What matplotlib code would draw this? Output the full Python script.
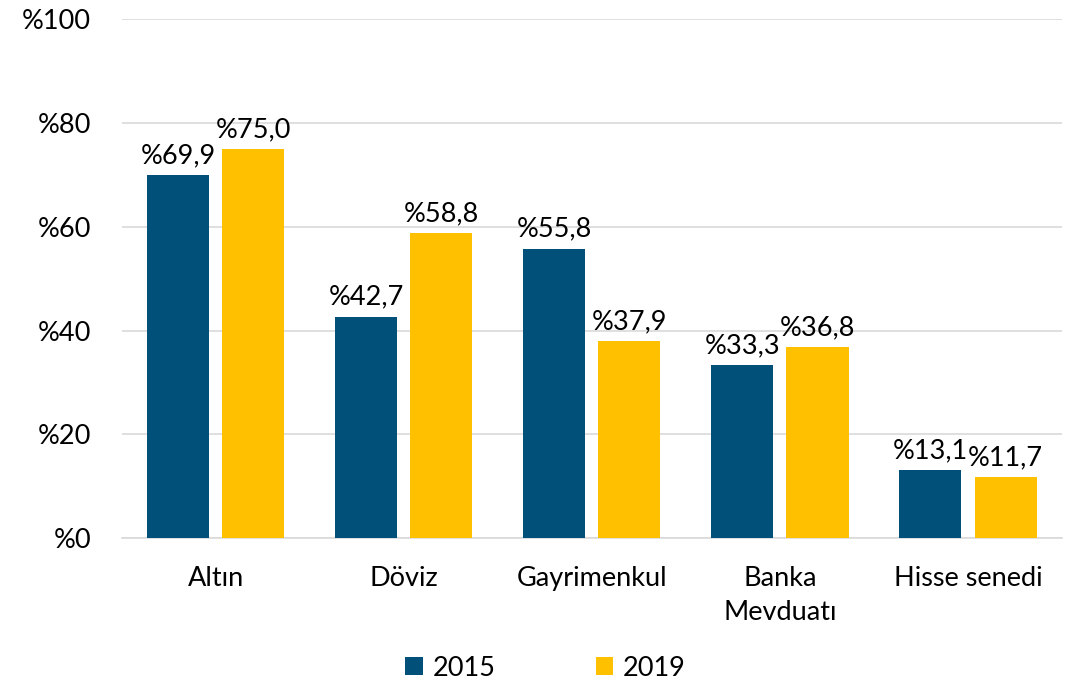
import numpy as np
import matplotlib
matplotlib.use("Agg")
import matplotlib.pyplot as plt

categories = ["Altın", "Döviz", "Gayrimenkul", "Banka\nMevduatı", "Hisse senedi"]
values_2015 = [69.9, 42.7, 55.8, 33.3, 13.1]
values_2019 = [75.0, 58.8, 37.9, 36.8, 11.7]
series_labels = ["2015", "2019"]
yticks = [0, 20, 40, 60, 80, 100]

blue = "#00507A"
yellow = "#FFC000"

plt.rcParams['font.family'] = ['Lato', 'DejaVu Sans']
fs = 19.5

fig = plt.figure(figsize=(10.76, 6.88), dpi=100)
ax = fig.add_axes([0.113, 0.218, 0.874, 0.754])

x = np.arange(len(categories))
w = 0.33
off = 0.2
b1 = ax.bar(x - off, values_2015, w, color=blue, label=series_labels[0], zorder=3)
b2 = ax.bar(x + off, values_2019, w, color=yellow, label=series_labels[1], zorder=3)

def fmt(v):
    return "%" + f"{v:.1f}".replace(".", ",")

for bars, vals in [(b1, values_2015), (b2, values_2019)]:
    for r, v in zip(bars, vals):
        ax.annotate(fmt(v), (r.get_x() + r.get_width() / 2, v), xytext=(0, 5),
                    textcoords="offset points", ha="center", va="bottom", fontsize=fs)

ax.set_xlim(-0.5, len(categories) - 0.5)
ax.set_ylim(0, 100)
ax.set_yticks(yticks)
ax.set_yticklabels(["%" + str(t) for t in yticks], fontsize=fs)
ax.set_xticks(x)
ax.set_xticklabels(categories, fontsize=fs, linespacing=1.45)
ax.tick_params(axis="y", length=0, pad=22)
ax.tick_params(axis="x", length=0, pad=20)
ax.grid(axis="y", color="#D9D9D9", linewidth=1.2, zorder=0)
for s in ["top", "right", "left"]:
    ax.spines[s].set_visible(False)
ax.spines["bottom"].set_color("#D9D9D9")
ax.spines["bottom"].set_linewidth(1.2)

fig.legend(handles=[b1, b2], labels=series_labels, loc="lower center",
           bbox_to_anchor=(0.507, -0.025), ncol=2, frameon=False, fontsize=fs,
           handlelength=0.65, handleheight=0.65, handletextpad=0.35,
           columnspacing=3.7)

fig.savefig("out.png", dpi=100)
